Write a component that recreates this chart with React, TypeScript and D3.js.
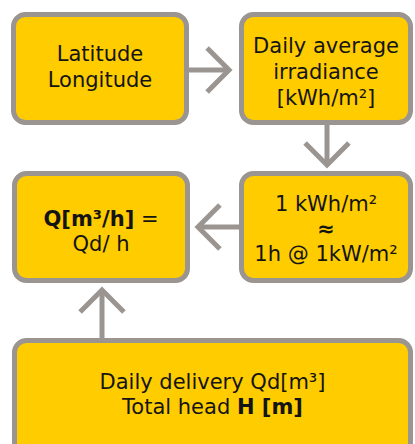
import React from 'react';
import * as d3 from 'd3';

// box ids, positions in the grid and their labels
const boxIds = ['latlon', 'irradiance', 'flow', 'hours', 'delivery'];
const boxRects = [
  [11, 12, 189, 125],
  [239, 12, 413, 125],
  [12, 171, 190, 283],
  [239, 171, 413, 283],
  [12, 338, 413, 470],
];
// each line is a list of [text, bold] pieces
const boxLines = [
  [[['Latitude', false]], [['Longitude', false]]],
  [[['Daily average', false]], [['irradiance', false]], [['[kWh/m²]', false]]],
  [[['Q[m³/h]', true], [' =', false]], [['Qd/ h', false]]],
  [[['1 kWh/m²', false]], [['≈', true]], [['1h @ 1kW/m²', false]]],
  [[['Daily delivery Qd[m³]', false]], [['Total head ', false], ['H [m]', true]]],
];
// baselines of each line
const lineY = [
  [61, 87],
  [53, 79, 105],
  [226, 251],
  [211, 236, 261],
  [389, 414],
];

// arrows: [from, to] as points, head at the "to" end
const arrows = [
  [[189, 70], [229, 70]],
  [[327, 124], [327, 165]],
  [[239, 227], [198, 227]],
  [[102, 339], [102, 290]],
];

const FILL = '#FFCC00';
const STROKE = '#9B9592';
const TEXT = '#141414';

const App = () => {
  const line = d3.line();

  return (
    <div style={{ position: 'absolute', left: 0, top: 0, width: 415, height: 444, overflow: 'hidden', background: '#fff' }}>
      <svg width={415} height={444} style={{ display: 'block' }}>
        {arrows.map((a, i) => {
          const [p0, p1] = a;
          const ang = Math.atan2(p1[1] - p0[1], p1[0] - p0[0]);
          const len = 31;
          const spread = Math.PI / 4;
          const w1 = [p1[0] - len * Math.cos(ang - spread), p1[1] - len * Math.sin(ang - spread)];
          const w2 = [p1[0] - len * Math.cos(ang + spread), p1[1] - len * Math.sin(ang + spread)];
          const tip = [p1[0] - 2 * Math.cos(ang), p1[1] - 2 * Math.sin(ang)];
          return (
            <g key={'a' + i} stroke={STROKE} strokeWidth={5} fill="none">
              <path d={line([p0, tip])} />
              <path d={line([w1, p1, w2])} strokeLinejoin="miter" />
            </g>
          );
        })}
        {boxIds.map((id, i) => {
          const [x0, y0, x1, y1] = boxRects[i];
          const cx = (x0 + x1) / 2;
          return (
            <g key={id}>
              <rect x={x0 + 2.5} y={y0 + 2.5} width={x1 - x0 - 5} height={y1 - y0 - 5}
                rx={12} ry={12} fill={FILL} stroke={STROKE} strokeWidth={5} />
              {boxLines[i].map((parts, j) => (
                <text key={j} x={cx} y={lineY[i][j]} textAnchor="middle"
                  fontFamily="'DejaVu Sans', sans-serif" fontSize={21} fill={TEXT}>
                  {parts.map((p, k) => (
                    <tspan key={k} fontWeight={p[1] ? 700 : 400}>{p[0]}</tspan>
                  ))}
                </text>
              ))}
            </g>
          );
        })}
      </svg>
    </div>
  );
};

export default App;
